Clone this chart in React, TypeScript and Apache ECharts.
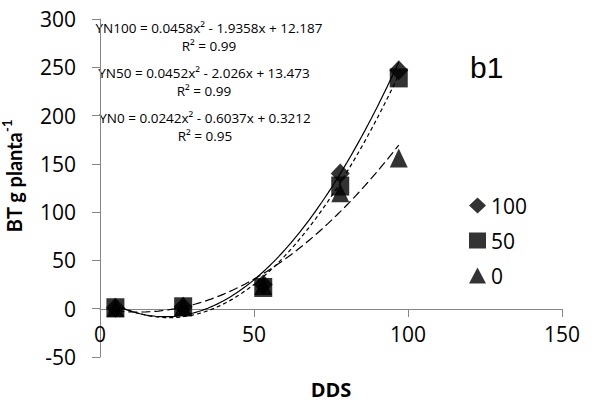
import React, { useEffect, useRef } from "react";
import * as echarts from "echarts";

// Biomasa total (BT) por planta según días después de la siembra (DDS)
const dds = [5, 27, 53, 78, 97];
const bt100 = [1, 2, 25, 140, 247];
const bt50 = [1, 2, 22, 127, 239];
const bt0 = [1, 2, 24, 120, 156];

// Coeficientes de las tendencias polinómicas [a, b, c] para y = a·x² + b·x + c
const coef100 = [0.0458, -1.9358, 12.187];
const coef50 = [0.0452, -2.026, 13.473];
const coef0 = [0.0242, -0.6037, 0.3212];

const seriesNames = ["100", "50", "0"];
const equationLabels = [
  "YN100 = 0.0458x² - 1.9358x + 12.187\nR² = 0.99",
  "YN50 = 0.0452x² - 2.026x + 13.473\nR² = 0.99",
  "YN0 = 0.0242x² - 0.6037x + 0.3212\nR² = 0.95",
];

const FONT = "'Open Sans', sans-serif";
const Y_MIN = -50;
const Y_MAX = 300;
const GRID_TOP = 19;
const GRID_H = 338;

function trend(coef: number[]): number[][] {
  const pts: number[][] = [];
  const x0 = dds[0];
  const x1 = dds[dds.length - 1];
  for (let x = x0; x <= x1; x += 1) {
    pts.push([x, coef[0] * x * x + coef[1] * x + coef[2]]);
  }
  return pts;
}

function pairs(ys: number[]): number[][] {
  return dds.map((x, i) => [x, ys[i]]);
}

export default function App() {
  const ref = useRef<HTMLDivElement>(null);

  useEffect(() => {
    if (!ref.current) return;
    const chart = echarts.init(ref.current, undefined, { renderer: "svg" });

    const axisGray = "#868686";
    const lineStyle = (type: any) => ({ color: "#000", width: 1.2, type });
    // the horizontal axis crosses the vertical one at y = 0
    const zeroOffset = -Math.round((GRID_H * (0 - Y_MIN)) / (Y_MAX - Y_MIN));

    chart.setOption({
      animation: false,
      backgroundColor: "#fff",
      grid: { left: 100, top: GRID_TOP, width: 462, height: GRID_H, outerBoundsMode: "none", containLabel: false },
      xAxis: {
        type: "value",
        min: 0,
        max: 150,
        interval: 50,
        position: "bottom",
        offset: zeroOffset,
        name: "DDS",
        nameLocation: "middle",
        nameGap: 70,
        nameTextStyle: { fontFamily: FONT, fontWeight: "bold", fontSize: 20, lineHeight: 20, color: "#000" },
        axisLine: { show: true, onZero: false, lineStyle: { color: axisGray, width: 1 } },
        axisTick: { show: true, inside: false, length: 8, lineStyle: { color: axisGray } },
        axisLabel: { fontFamily: FONT, fontSize: 21, color: "#000", margin: 14 },
        splitLine: { show: false },
      },
      yAxis: {
        type: "value",
        min: Y_MIN,
        max: Y_MAX,
        interval: 50,
        name: "{m|BT g planta}{s|-1}",
        nameLocation: "middle",
        nameRotate: 90,
        nameGap: 76,
        nameTextStyle: {
          padding: [0, 0, 0, 24],
          rich: {
            m: { fontFamily: "Lato, sans-serif", fontWeight: "bold", fontSize: 20, color: "#000", lineHeight: 24, verticalAlign: "bottom" },
            s: { fontFamily: "Lato, sans-serif", fontWeight: "bold", fontSize: 13, color: "#000", lineHeight: 24, verticalAlign: "top", padding: [0, 0, 10, 0] },
          },
        },
        axisLine: { show: true, onZero: false, lineStyle: { color: axisGray, width: 1 } },
        axisTick: { show: true, inside: false, length: 8, lineStyle: { color: axisGray } },
        axisLabel: { fontFamily: FONT, fontSize: 21, color: "#000", margin: 24 },
        splitLine: { show: false },
      },
      legend: {
        data: seriesNames,
        orient: "vertical",
        left: 464,
        top: 190,
        itemWidth: 17,
        itemHeight: 16,
        itemGap: 14,
        textStyle: { fontFamily: FONT, fontSize: 21, color: "#000", lineHeight: 20 },
      },
      graphic: [
        ...equationLabels.map((t, i) => ({
          type: "text",
          x: [209, 204, 205][i],
          y: [19, 64, 109][i],
          style: {
            text: t,
            fontFamily: FONT,
            fontSize: 13.5,
            lineHeight: 18,
            fill: "#000",
            align: "center",
            verticalAlign: "top",
          },
        })),
        {
          type: "text",
          x: 470,
          y: 52,
          style: { text: "b1", fontFamily: "'Liberation Sans', Arial, sans-serif", fontSize: 30, fill: "#000", verticalAlign: "top" },
        },
      ],
      series: [
        {
          name: "Tendencia 100",
          type: "line",
          data: trend(coef100),
          showSymbol: false,
          symbol: "none",
          lineStyle: lineStyle("solid"),
          z: 2,
        },
        {
          name: "Tendencia 50",
          type: "line",
          data: trend(coef50),
          showSymbol: false,
          symbol: "none",
          lineStyle: lineStyle([4, 3]),
          z: 2,
        },
        {
          name: "Tendencia 0",
          type: "line",
          data: trend(coef0),
          showSymbol: false,
          symbol: "none",
          lineStyle: lineStyle([9, 4]),
          z: 2,
        },
        {
          name: "100",
          type: "scatter",
          data: pairs(bt100),
          symbol: "diamond",
          symbolSize: [19, 20],
          itemStyle: { color: "#000" },
          z: 3,
        },
        {
          name: "50",
          type: "scatter",
          data: pairs(bt50),
          symbol: "rect",
          symbolSize: [18, 19],
          itemStyle: { color: "#000" },
          z: 3,
        },
        {
          name: "0",
          type: "scatter",
          data: pairs(bt0),
          symbol: "triangle",
          symbolSize: [18, 19],
          itemStyle: { color: "#000" },
          z: 3,
        },
      ],
    });

    return () => chart.dispose();
  }, []);

  return (
    <div
      ref={ref}
      style={{ position: "fixed", left: 0, top: 0, width: 592, height: 404, background: "#fff" }}
    />
  );
}
